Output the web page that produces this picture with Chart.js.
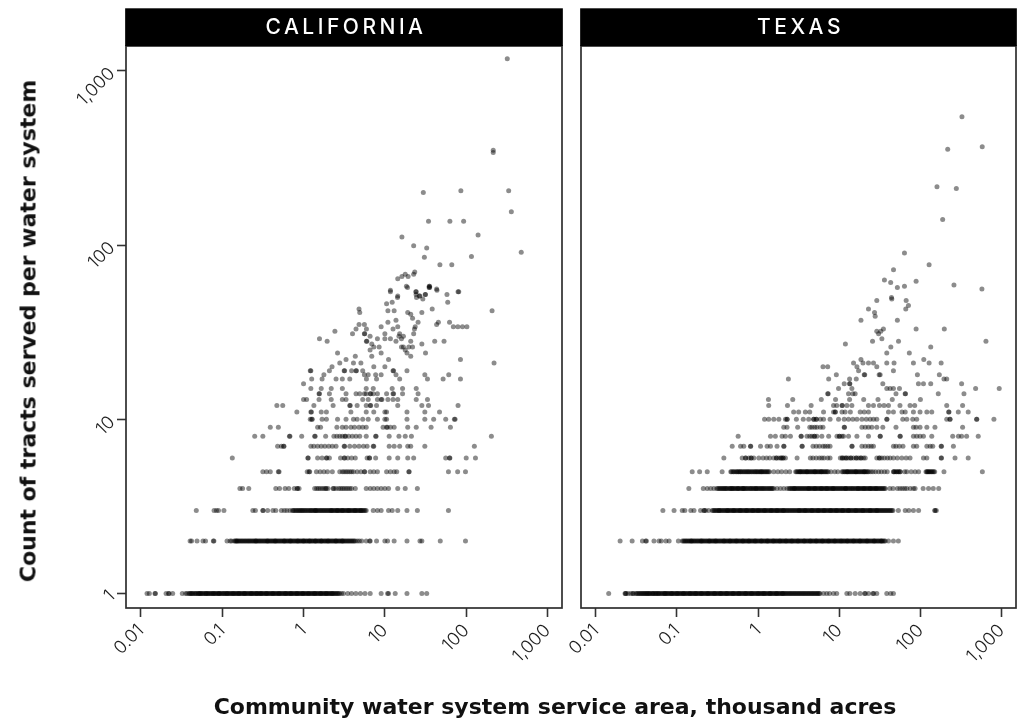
<!DOCTYPE html>
<html>
<head>
<meta charset="utf-8">
<title>Tracts served vs. service area</title>
<script src="https://cdn.jsdelivr.net/npm/chart.js@4.4.1/dist/chart.umd.min.js"></script>
<style>
  html, body { margin: 0; padding: 0; background: #fff; width: 1019px; height: 726px; overflow: hidden; }
  #wrap { position: relative; width: 1019px; height: 726px; }
  canvas { position: absolute; top: 0; }
  #cvCA { left: 0; }
  #cvTX { left: 540px; }
  .axis-title { position: absolute; white-space: nowrap; font-family: "DejaVu Sans", sans-serif; font-weight: 700; font-size: 22px; color: #111; }
  #yTitle { left: 28px; top: 331px; transform: translate(-50%, -50%) rotate(-90deg); }
  #xTitle { left: 555px; top: 706px; transform: translate(-50%, -50%); }
</style>
</head>
<body>
<div id="wrap">
  <canvas id="cvCA" width="580" height="726"></canvas>
  <canvas id="cvTX" width="495" height="726"></canvas>
  <div class="axis-title" id="yTitle">Count of tracts served per water system</div>
  <div class="axis-title" id="xTitle">Community water system service area, thousand acres</div>
</div>
<script>
// ---- axis ticks and panel names ----
const xTickValues = [0.01, 0.1, 1, 10, 100, 1000];
const xTickLabels = ['0.01', '0.1', '1', '10', '100', '1,000'];
const yTickValues = [1, 10, 100, 1000];
const yTickLabels = ['1', '10', '100', '1,000'];
const panelTitles = ['CALIFORNIA', 'TEXAS'];

// ---- California: service areas (thousand acres) of systems serving N tracts ----
const caRow1 = [0.0119, 0.0127, 0.0149, 0.0151, 0.0204, 0.0219, 0.0222, 0.0246, 0.0323, 0.0355, 0.037,
  0.039, 0.041, 0.043, 0.046, 0.048, 0.051, 0.052, 0.054, 0.057, 0.060, 0.063, 0.064, 0.067, 0.071, 0.075, 0.078,
  0.080, 0.084, 0.089, 0.092, 0.094, 0.100, 0.105, 0.111, 0.115, 0.118, 0.125, 0.132, 0.137, 0.140, 0.148, 0.156,
  0.160, 0.165, 0.175, 0.185, 0.190, 0.196, 0.207, 0.219, 0.225, 0.232, 0.245, 0.259, 0.265, 0.274, 0.290, 0.300,
  0.307, 0.325, 0.344, 0.350, 0.364, 0.385, 0.407, 0.420, 0.431, 0.456, 0.482, 0.500, 0.510, 0.540, 0.571, 0.600,
  0.604, 0.639, 0.676, 0.700, 0.715, 0.757, 0.801, 0.830, 0.847, 0.896, 0.948, 0.980, 1.00, 1.06, 1.12, 1.15, 1.19,
  1.26, 1.33, 1.37, 1.41, 1.49, 1.58, 1.62, 1.67, 1.77, 1.87, 1.90, 1.98, 2.09, 2.21, 2.25, 2.34, 2.48, 2.62, 2.70,
  2.77, 2.93, 3.10, 3.5, 3.9, 4.4, 5.0, 5.7, 6.6, 9.0, 10.8, 11.1, 13.4, 18.7, 28.5, 32.7,
  0.040, 0.042, 0.044, 0.047, 0.050, 0.053, 0.055, 0.058, 0.062, 0.066, 0.069, 0.073, 0.077, 0.082, 0.087, 0.091,
  0.097, 0.103, 0.108, 0.114, 0.121, 0.128, 0.135, 0.144, 0.152, 0.161, 0.170, 0.180, 0.188, 0.201, 0.213, 0.228,
  0.238, 0.252, 0.268, 0.283, 0.298, 0.315, 0.335, 0.354, 0.374, 0.396, 0.418, 0.443, 0.468, 0.495, 0.525, 0.555,
  0.588, 0.622, 0.658, 0.695, 0.736, 0.779, 0.824, 0.872, 0.922, 0.975, 1.03, 1.09, 1.16, 1.23, 1.30, 1.37, 1.45,
  1.53, 1.63, 1.72, 1.82, 1.93, 2.04, 2.15, 2.28, 2.41, 2.55];
const caRow2 = [0.0403, 0.0420, 0.0490, 0.0580, 0.0624, 0.0778, 0.0790, 0.1146, 0.125, 0.130,
  0.140, 0.148, 0.150, 0.157, 0.166, 0.176, 0.187, 0.198, 0.210, 0.222, 0.236, 0.250, 0.260, 0.265, 0.281, 0.297,
  0.315, 0.334, 0.354, 0.360, 0.375, 0.398, 0.422, 0.447, 0.450, 0.474, 0.502, 0.532, 0.564, 0.580, 0.598, 0.634,
  0.672, 0.690, 0.712, 0.755, 0.800, 0.848, 0.850, 0.899, 0.953, 1.00, 1.01, 1.07, 1.13, 1.18, 1.20, 1.27, 1.35,
  1.40, 1.43, 1.52, 1.61, 1.65, 1.70, 1.81, 1.91, 2.00, 2.03, 2.15, 2.28, 2.42, 2.50, 2.56, 2.72, 2.88, 3.00, 3.05,
  3.23, 3.43, 3.63, 3.85, 4.08, 4.33, 4.59, 4.86, 5.20, 5.90, 6.50, 6.60,
  7.9, 10.0, 10.8, 13.0, 18.7, 27.0, 28.5, 48.0, 98.0,
  0.144, 0.153, 0.161, 0.171, 0.181, 0.192, 0.204, 0.216, 0.229, 0.243, 0.257, 0.273, 0.289, 0.306, 0.325, 0.344,
  0.365, 0.387, 0.410, 0.434, 0.460, 0.488, 0.517, 0.548, 0.581, 0.616, 0.653, 0.692, 0.734, 0.778, 0.824, 0.874,
  0.926, 0.982, 1.04, 1.10, 1.17, 1.24, 1.31, 1.39, 1.47, 1.56, 1.66, 1.76, 1.86, 1.97, 2.09, 2.22, 2.35, 2.49,
  2.64, 2.80, 2.97, 3.14, 3.33, 3.53, 3.74, 3.97, 4.20];
const caRow3 = [0.048, 0.0794, 0.085, 0.090, 0.105, 0.238, 0.256, 0.316, 0.318, 0.362, 0.420, 0.456, 0.534, 0.580,
  0.624, 0.680, 0.73, 0.77, 0.82, 0.87, 0.92, 0.97, 1.03, 1.09, 1.16, 1.20, 1.23, 1.30, 1.38, 1.40, 1.46, 1.55,
  1.60, 1.64, 1.74, 1.84, 1.90, 1.95, 2.07, 2.19, 2.20, 2.32, 2.46, 2.60, 2.61, 2.76, 2.93, 3.00, 3.10, 3.29, 3.48,
  3.60, 3.69, 3.91, 4.15, 4.30, 4.40, 4.66, 4.94, 5.10, 5.24, 5.55, 5.90,
  7.2, 8.1, 9.0, 11.1, 12.3, 14.4, 18.7, 25.1, 60.5,
  0.75, 0.80, 0.85, 0.90, 0.95, 1.0, 1.06, 1.13, 1.26, 1.34, 1.42, 1.5, 1.69, 1.79, 2.01, 2.13, 2.26, 2.39, 2.53,
  2.68, 2.84, 3.02, 3.2, 3.39, 3.58, 3.8, 4.03, 4.27, 4.53, 4.8, 5.07, 5.4, 5.72];
const caRow4 = [0.165, 0.178, 0.212, 0.456, 0.507, 0.593, 0.658, 0.77, 0.837, 0.84, 0.881, 1.37, 1.45, 1.52, 1.6,
  1.69, 1.78, 1.87, 1.9, 2.0, 2.31, 2.35, 2.5, 2.7, 2.85, 3.0, 3.15, 3.33, 3.5, 3.7, 3.9, 4.33, 5.9, 6.6, 7.3, 8.1,
  9.0, 10.0, 11.1, 14.4, 17.8, 25.1];
const caRow5 = [0.316, 0.351, 0.39, 0.49, 0.5, 1.11, 1.17, 1.19, 1.44, 1.6, 1.78, 1.97, 2.26, 2.79, 3.0, 3.15,
  3.33, 3.5, 3.7, 3.9, 4.11, 4.56, 5.07, 5.6, 5.65, 6.6, 7.3, 8.1, 10.5, 11.7, 13.0, 14.0, 19.7, 19.9, 60.5, 78.5, 98.0];
const caRow6 = [0.133, 1.13, 1.14, 1.49, 1.69, 1.91, 1.93, 2.08, 2.85, 3.16, 3.2, 3.5, 3.9, 4.33, 6.05, 6.45, 6.5,
  7.7, 11.3, 14.4, 19.1, 22.6, 56.0, 62.4, 63.0, 100, 130];
const caRow7 = [0.48, 0.534, 0.569, 0.575, 1.23, 1.34, 1.49, 1.65, 1.83, 2.04, 2.26, 2.51, 3.16, 3.2, 3.7, 4.24,
  4.81, 5.45, 6.05, 7.2, 7.3, 11.3, 13.0, 15.2, 19.1, 20.8, 31.0, 126];
const caRow8 = [0.251, 0.316, 0.671, 0.68, 0.949, 1.37, 1.39, 1.87, 2.36, 2.57, 2.79, 3.0, 3.23, 3.28, 3.59, 3.98,
  4.42, 4.91, 5.9, 7.7, 7.8, 11.3, 14.9, 17.8, 21.2, 204];
const caRow9 = [0.39, 0.49, 1.49, 1.62, 2.57, 3.0, 3.33, 3.82, 4.24, 4.81, 5.34, 5.9, 9.5, 10.5, 10.7, 11.7, 13.0,
  19.1, 24.3, 37.0, 64.0];
const caRow10 = [1.21, 1.26, 1.28, 1.69, 1.91, 2.62, 3.33, 4.11, 4.56, 5.34, 6.24, 8.1, 10.0, 10.5, 18.7, 31.0,
  39.8, 56.0, 71.6, 73.0];
const caRow11 = [0.828, 1.23, 1.25, 1.65, 1.91, 3.82, 5.9, 7.3, 10.0, 10.5, 18.7, 31.0, 47.0];
const caRow12 = [0.47, 0.555, 1.34, 2.31, 3.7, 3.75, 4.56, 5.9, 6.6, 6.7, 7.9, 14.4, 28.5, 34.4, 79.4];
const caRow13 = [1.0, 1.09, 1.55, 2.19, 3.0, 3.33, 5.34, 6.24, 8.1, 9.0, 9.2, 10.9, 12.6, 14.4, 24.3, 33.4];
const caRow14 = [1.55, 1.57, 2.08, 3.33, 4.42, 4.91, 5.6, 5.9, 6.6, 6.7, 7.2, 8.1, 10.5, 12.6, 12.8, 16.5, 25.6];
const caRow15 = [1.23, 1.65, 2.19, 3.0, 5.9, 7.2, 12.3, 16.5, 24.3];
// [area, tracts] for systems serving more than 15 tracts
const caLarger = [[1.0, 16], [1.21, 19], [1.23, 19], [1.26, 17], [1.57, 29], [1.95, 28], [2.43, 32], [1.69, 17],
  [1.78, 18], [2.08, 19], [2.24, 20], [2.51, 17], [2.62, 24], [2.79, 21], [3.0, 17], [3.16, 19], [3.2, 19], [3.33, 22],
  [3.7, 17], [3.9, 19], [4.0, 31], [4.11, 21], [4.33, 23], [4.42, 19], [4.46, 19], [4.42, 33], [4.81, 43], [4.91, 41],
  [4.81, 35], [5.07, 21], [5.34, 19], [5.6, 35], [5.6, 18], [5.93, 33], [5.93, 17], [6.24, 18], [5.93, 28], [6.0, 28],
  [5.6, 31], [5.65, 31], [6.58, 30], [6.58, 25], [6.9, 23], [6.9, 27], [7.31, 20], [7.31, 26], [7.7, 18], [7.9, 17],
  [8.1, 29], [8.5, 26], [9.0, 18], [9.0, 24], [9.0, 34], [10, 20], [10, 31], [10, 29], [10.5, 46], [10.9, 42],
  [10.9, 36], [11.1, 22], [11.7, 55], [11.7, 29], [12.3, 47], [12.6, 33], [12.6, 19], [12.8, 19], [13, 42], [13.7, 37],
  [13.7, 28], [13.7, 18], [14.4, 34], [14.4, 51], [14.9, 30], [15.2, 31], [15.2, 17], [16, 29], [16, 26], [16.9, 26],
  [16.9, 30], [17.8, 25], [18.4, 58], [18.7, 24], [18.7, 19], [19.1, 41], [19.7, 26], [20.8, 23], [20.8, 28],
  [20.8, 40], [21.9, 26], [21.9, 38], [22.6, 31], [23.1, 33], [23.6, 34], [24.3, 54], [25.6, 36], [26.6, 51],
  [26.9, 51], [28.5, 41], [28.5, 27], [29.3, 49], [31, 18], [31.6, 52], [31.6, 24], [33.4, 17], [35.1, 58], [35.5, 58],
  [38.2, 43], [41, 28], [43.3, 56], [43.3, 35], [45.5, 36], [52, 17], [53.4, 28], [58, 52], [59.3, 47], [61, 18],
  [62.4, 36], [69.5, 34], [79, 34], [81, 54], [85, 22], [90, 34], [102, 34], [85, 17], [208, 42], [220, 21],
  [320, 1170], [215, 350], [215, 340], [29.7, 200], [86, 205], [333, 205], [359, 155], [34.4, 137], [63, 137],
  [93, 137], [140, 114], [16.2, 111], [475, 91], [22.6, 99], [32.7, 96], [30.6, 85], [116, 86], [47.5, 77],
  [66.5, 77], [14.4, 64], [16.2, 66], [17.8, 68], [19.3, 66], [22.6, 68], [23.3, 70], [19, 57], [35, 57],
  [35.5, 57], [43.7, 55], [79.4, 54], [11.7, 54], [14.3, 50], [24, 54], [24.2, 52], [24.5, 50], [31.3, 52]];

// ---- Texas: service areas (thousand acres) of systems serving N tracts ----
const txRow1 = [0.0144, 0.0229, 0.0232, 0.0236, 0.025, 0.027, 0.0285, 0.029,
  0.031, 0.033, 0.035, 0.037, 0.039, 0.041, 0.042, 0.044, 0.046, 0.049, 0.050, 0.052, 0.055, 0.058, 0.060, 0.062,
  0.066, 0.070, 0.072, 0.074, 0.078, 0.083, 0.085, 0.088, 0.093, 0.099, 0.100, 0.105, 0.111, 0.118, 0.120, 0.125,
  0.132, 0.140, 0.145, 0.149, 0.158, 0.167, 0.170, 0.177, 0.188, 0.199, 0.200, 0.211, 0.224, 0.237, 0.240, 0.251,
  0.266, 0.282, 0.290, 0.299, 0.317, 0.336, 0.345, 0.356, 0.378, 0.400, 0.410, 0.424, 0.450, 0.477, 0.490, 0.505,
  0.536, 0.568, 0.580, 0.602, 0.638, 0.676, 0.700, 0.717, 0.760, 0.805, 0.830, 0.854, 0.905, 0.959, 1.00, 1.02,
  1.08, 1.14, 1.18, 1.21, 1.28, 1.36, 1.40, 1.44, 1.53, 1.62, 1.68, 1.72, 1.82, 1.93, 2.00, 2.05, 2.17, 2.30, 2.44,
  2.58, 2.74, 2.90, 3.08, 3.26, 3.46, 3.66, 3.88, 4.12, 4.36, 4.63, 4.90, 5.20, 5.50, 5.80,
  6.4, 7.0, 7.6, 8.5, 9.3, 12.4, 13.5, 15.7, 18.1, 20.5, 21.0, 23.0, 26.0, 26.5, 29.0, 38.5, 43.0, 46.5,
  0.032, 0.034, 0.036, 0.038, 0.040, 0.043, 0.045, 0.047, 0.051, 0.054, 0.056, 0.059, 0.064, 0.068, 0.071, 0.076,
  0.080, 0.086, 0.090, 0.096, 0.102, 0.108, 0.114, 0.121, 0.128, 0.136, 0.144, 0.153, 0.162, 0.172, 0.182, 0.193,
  0.205, 0.217, 0.230, 0.244, 0.258, 0.274, 0.290, 0.308, 0.326, 0.346, 0.367, 0.389, 0.412, 0.437, 0.463, 0.491,
  0.520, 0.552, 0.585, 0.620, 0.657, 0.696, 0.738, 0.782, 0.829, 0.879, 0.932, 0.988, 1.05, 1.11, 1.17, 1.24, 1.32,
  1.40, 1.48, 1.57, 1.67, 1.77, 1.87, 1.99, 2.11, 2.23, 2.37, 2.51, 2.66, 2.82, 2.99, 3.17, 3.36, 3.56, 3.77, 4.00,
  4.24, 4.50, 4.76, 5.05, 5.35, 5.65];
const txRow2 = [0.0199, 0.028, 0.0375, 0.0411, 0.042, 0.052, 0.060, 0.064, 0.073, 0.080, 0.104,
  0.116, 0.123, 0.130, 0.138, 0.146, 0.150, 0.155, 0.164, 0.174, 0.184, 0.195, 0.200, 0.207, 0.219, 0.232, 0.246,
  0.250, 0.261, 0.277, 0.293, 0.300, 0.311, 0.330, 0.349, 0.370, 0.380, 0.393, 0.416, 0.441, 0.450, 0.468, 0.496,
  0.525, 0.540, 0.557, 0.590, 0.626, 0.650, 0.663, 0.703, 0.745, 0.770, 0.790, 0.837, 0.887, 0.920, 0.941, 0.997,
  1.06, 1.10, 1.12, 1.19, 1.26, 1.30, 1.33, 1.41, 1.50, 1.55, 1.59, 1.68, 1.78, 1.85, 1.89, 2.00, 2.12, 2.20, 2.25,
  2.39, 2.53, 2.60, 2.68, 2.84, 3.01, 3.10, 3.19, 3.38, 3.59, 3.70, 3.80, 4.03, 4.27, 4.40, 4.53, 4.80, 5.09, 5.20,
  5.39, 5.72, 6.06, 6.20, 6.42, 6.81, 7.22, 7.40, 7.65, 8.11, 8.60, 8.80, 9.11, 9.66, 10.2, 10.5, 10.9, 11.5, 12.2,
  12.5, 12.9, 13.7, 14.5, 15.0, 15.4, 16.3, 17.3, 18.0, 18.3, 19.4, 20.6, 21.8, 22.0, 23.1, 24.5, 26.0, 27.0, 27.5,
  29.2, 30.9, 32.8, 33.0, 34.8, 36.9, 40.4, 46.5, 53.5,
  0.120, 0.127, 0.134, 0.142, 0.151, 0.160, 0.169, 0.179, 0.190, 0.201, 0.213, 0.226, 0.239, 0.254, 0.269, 0.285,
  0.302, 0.320, 0.339, 0.360, 0.381, 0.404, 0.428, 0.454, 0.481, 0.510, 0.541, 0.573, 0.608, 0.644, 0.683, 0.724,
  0.767, 0.813, 0.862, 0.914, 0.969, 1.03, 1.09, 1.16, 1.23, 1.30, 1.37, 1.46, 1.54, 1.64, 1.73, 1.84, 1.95, 2.06,
  2.19, 2.32, 2.46, 2.61, 2.76, 2.93, 3.10, 3.29, 3.49, 3.70, 3.92, 4.15, 4.40, 4.67, 4.95, 5.24, 5.56, 5.89, 6.24,
  6.62, 7.01, 7.43, 7.88, 8.35, 8.85, 9.39, 9.95, 10.6, 11.2, 11.8, 12.6, 13.3, 14.1, 15.0, 15.9, 16.8, 17.8, 18.9,
  20.0, 21.2, 22.5, 23.8, 25.3, 26.8, 28.4, 30.1, 31.9, 33.8, 35.8];
const txRow3 = [0.067, 0.092, 0.116, 0.125, 0.148, 0.162, 0.195, 0.215, 0.216, 0.225, 0.245,
  0.272, 0.288, 0.305, 0.324, 0.330, 0.343, 0.364, 0.386, 0.409, 0.420, 0.433, 0.459, 0.487, 0.500, 0.516, 0.547,
  0.580, 0.600, 0.615, 0.652, 0.691, 0.720, 0.732, 0.776, 0.823, 0.860, 0.872, 0.925, 0.980, 1.00, 1.04, 1.10, 1.17,
  1.20, 1.24, 1.31, 1.39, 1.45, 1.47, 1.56, 1.66, 1.70, 1.76, 1.86, 1.97, 2.05, 2.09, 2.22, 2.35, 2.49, 2.64, 2.80,
  2.97, 3.15, 3.20, 3.34, 3.54, 3.75, 3.80, 3.98, 4.21, 4.47, 4.60, 4.73, 5.02, 5.32, 5.50, 5.64, 5.98, 6.34, 6.50,
  6.72, 7.12, 7.55, 7.80, 8.00, 8.48, 8.99, 9.20, 9.53, 10.1, 10.7, 11.0, 11.3, 12.0, 12.8, 13.0, 13.5, 14.3, 15.2,
  16.0, 16.1, 17.1, 18.1, 19.2, 19.5, 20.3, 21.5, 22.8, 24.0, 24.2, 25.6, 27.2, 28.8, 29.0, 30.5, 32.4, 34.3, 36.4,
  38.5, 40.9, 43.3, 45.9, 53.5, 65, 72, 82, 95, 150, 152, 157,
  0.280, 0.296, 0.314, 0.333, 0.353, 0.375, 0.397, 0.421, 0.446, 0.473, 0.501, 0.531, 0.563, 0.597, 0.633, 0.671,
  0.711, 0.754, 0.799, 0.847, 0.898, 0.952, 1.01, 1.07, 1.13, 1.20, 1.27, 1.35, 1.43, 1.52, 1.61, 1.71, 1.81, 1.92,
  2.03, 2.15, 2.28, 2.42, 2.57, 2.72, 2.88, 3.06, 3.24, 3.44, 3.64, 3.86, 4.09, 4.34, 4.60, 4.88, 5.17, 5.48, 5.81,
  6.16, 6.53, 6.92, 7.33, 7.77, 8.24, 8.73, 9.26, 9.81, 10.4, 11.0, 11.7, 12.4, 13.1, 13.9, 14.7, 15.6, 16.6, 17.6,
  18.6, 19.7, 20.9, 22.2, 23.5, 24.9, 26.4, 28.0, 29.7, 31.4, 33.3, 35.3, 37.4, 39.7, 42.0, 44.6];
const txRow4 = [0.140, 0.211, 0.236, 0.260, 0.285,
  0.31, 0.33, 0.34, 0.35, 0.37, 0.39, 0.40, 0.41, 0.44, 0.46, 0.47, 0.49, 0.52, 0.55, 0.56, 0.58, 0.62, 0.65, 0.66,
  0.69, 0.73, 0.78, 0.80, 0.82, 0.87, 0.92, 0.95, 0.98, 1.04, 1.10, 1.13, 1.16, 1.23, 1.31, 1.35, 1.39, 1.47, 1.56,
  1.71, 1.88, 2.07, 2.27,
  2.40, 2.54, 2.69, 2.80, 2.86, 3.03, 3.21, 3.40, 3.50, 3.60, 3.82, 4.05, 4.20, 4.29, 4.55, 4.82, 5.00, 5.11, 5.42,
  5.74, 6.00, 6.09, 6.45, 6.84, 7.00, 7.25, 7.69, 8.15, 8.40, 8.63, 9.15, 9.70, 10.0, 10.3, 10.9, 11.6, 12.0, 12.2,
  13.0, 13.8, 14.2, 14.6, 15.5, 16.4, 17.0, 17.4, 18.4, 19.5, 20.2, 20.7, 21.9, 23.2, 24.0, 24.6, 26.1, 27.6, 28.5,
  29.3, 31.1, 32.9, 34.9, 37.0, 42, 46, 52, 56, 60, 64, 68, 75, 82, 86, 108, 126, 144, 168,
  0.32, 0.36, 0.38, 0.42, 0.45, 0.48, 0.50, 0.53, 0.57, 0.60, 0.64, 0.67, 0.71, 0.75, 0.84, 0.89, 0.94, 1.01, 1.07,
  1.19, 1.27, 1.43, 1.51, 2.47, 2.62, 2.77, 2.94, 3.12, 3.30, 3.71, 3.93, 4.17, 4.42, 4.68, 4.97, 5.27, 5.58, 5.92,
  6.27, 6.65, 7.05, 7.47, 7.92, 8.39, 8.89, 9.43, 10.6, 11.2, 11.9, 12.6, 13.4, 14.9, 15.9, 16.9, 17.9, 18.9, 20.0,
  21.3, 22.5, 23.9, 25.3, 26.8, 28.4, 30.2, 32.0, 33.9, 35.9];
const txRow5 = [0.154, 0.190, 0.236, 0.360,
  0.46, 0.49, 0.50, 0.52, 0.55, 0.58, 0.60, 0.61, 0.65, 0.69, 0.73, 0.75, 0.77, 0.82, 0.87, 0.90, 0.92, 0.97, 1.03,
  1.09, 1.10, 1.16, 1.23, 1.30, 1.38, 1.56, 1.75, 1.95, 2.20, 2.45,
  2.90, 3.07, 3.25, 3.30, 3.45, 3.65, 3.87, 4.00, 4.10, 4.35, 4.60, 4.88, 5.00, 5.17, 5.48, 5.80, 6.00, 6.15, 6.52,
  6.90, 7.30, 7.9, 8.8, 9.6, 10.8, 11.5, 12.2, 12.5, 12.9, 13.7, 14.5, 15.4, 16.0, 16.3, 17.3, 18.3, 19.4, 20.0, 20.6,
  21.8, 23.1, 24.5, 26, 28, 30.5, 33, 36, 39, 46.5, 48, 50, 53, 56, 56.5, 64, 68, 77, 86, 95, 117, 122, 128, 135,
  142, 150, 195, 580,
  0.47, 0.54, 0.57, 0.63, 0.67, 0.71, 0.79, 0.84, 0.95, 1.0, 1.06, 1.13, 1.2, 1.27, 1.34, 2.98, 3.16, 3.35, 3.55,
  3.76, 3.98, 4.22, 4.47, 4.74, 5.03, 5.32, 5.64, 5.98, 6.33, 6.71, 7.1, 11.1, 11.8, 12.6, 13.3, 14.1, 15.0, 15.9,
  16.8, 17.8, 18.9, 20.3, 21.2, 22.4, 47, 51, 54, 120, 125, 131, 138, 146];
const txRow6 = [0.378, 0.636, 0.70, 0.70, 0.768, 0.82, 0.82, 0.885, 1.02, 1.15, 1.27, 1.39, 1.56, 1.68, 1.68, 1.8,
  1.92, 1.92, 2.03, 2.03, 2.17, 3.02, 4.4, 4.74, 5.2, 5.7, 6.1, 6.5, 7.2, 7.7, 10.3, 10.9, 10.9, 11.5, 12.2, 12.2,
  13.0, 13.9, 13.9, 15.0, 16.2, 16.2, 17.3, 18.5, 18.5, 19.9, 20.9, 29, 31.2, 31.2, 33.4, 36, 39.2, 42.3, 46.5, 52,
  59, 66.7, 74.5, 109, 120, 180, 182, 267, 388];
const txRow7 = [0.479, 0.607, 0.666, 0.805, 0.81, 1.07, 1.29, 1.42, 1.71, 2.07, 2.08, 3.47, 3.5, 4.74, 5.2, 5.7,
  6.3, 6.7, 7.2, 7.7, 14.3, 14.4, 19, 20.9, 22.9, 24.7, 26.4, 46.5, 50, 55, 61, 82, 90, 120, 132, 142, 180, 182, 255];
const txRow8 = [0.567, 1.42, 1.63, 1.97, 2.17, 2.5, 3.38, 3.4, 4.0, 4.33, 4.6, 4.93, 4.95, 5.3, 6.1, 7.4, 9.36,
  10.0, 10.1, 10.8, 11.3, 13.0, 16.5, 22.9, 31.9, 32.0, 56, 56.5, 82, 90, 99, 109, 138, 250, 294, 322, 371, 516];
const txRow9 = [2.07, 2.27, 3.07, 4.33, 4.6, 4.97, 5.3, 5.84, 6.3, 11.5, 11.6, 19, 20.9, 22.9, 25.2, 29, 34.4, 50,
  82, 88.5, 99, 120, 151, 331];
const txRow10 = [1.2, 1.35, 1.56, 1.8, 2.17, 2.27, 2.28, 2.96, 3.6, 4.2, 4.83, 4.85, 5.2, 5.22, 5.84, 6.4, 7.7, 9.8,
  11.5, 13.0, 14.7, 16.5, 19.0, 21.5, 24.0, 26.4, 29.0, 38.5, 38.7, 60.6, 68, 80.4, 90, 211, 231, 232, 493, 495, 805];
const txRow11 = [2.74, 3.16, 3.82, 4.33, 6.4, 8.5, 8.9, 8.95, 10.8, 11.8, 13.7, 18.1, 20.3, 22.9, 40.4, 46.5, 59.2,
  65, 82, 99, 120, 138, 223, 225, 293, 388];
const txRow12 = [1.35, 2.3, 4.5, 8.5, 9.3, 10.8, 10.9, 12.4, 14.3, 22.9, 26.4, 31.3, 35.6, 40.4, 56, 74.5, 85, 211, 331];
// [area, tracts] for systems serving more than 12 tracts
const txLarger = [[1.34, 13], [2.67, 13], [13.4, 13], [6.0, 13], [9.0, 13], [20, 13], [30, 13], [45, 13], [100, 13],
  [7.2, 14], [7.3, 14], [14.7, 14], [15.7, 14], [13, 14], [50, 14], [64.8, 14], [65.5, 14], [166, 14], [344, 14],
  [9.8, 15], [14.3, 15], [38.5, 15], [42.3, 15], [46.5, 15], [55.2, 15], [479, 15], [936, 15],
  [11.5, 16], [13.4, 16], [13.5, 16], [34.4, 16], [94.5, 16], [109, 16], [134, 16], [322, 16],
  [2.36, 17], [7.4, 17], [13.4, 17], [16.2, 17], [195, 17], [211, 17],
  [20.3, 18], [20.6, 18], [31, 18], [31.9, 18], [9.2, 18], [91.8, 18], [171, 18],
  [17.3, 19], [46.5, 19], [16.5, 20], [29, 20], [6.3, 20], [7.2, 20],
  [15, 21], [22.9, 21], [26.4, 21], [38.5, 21], [47.3, 21], [82, 21], [128, 21], [180, 21], [19.6, 21],
  [18.5, 22], [110, 22], [38.5, 24], [73, 24], [43.2, 26], [134, 26], [11.9, 27], [25.7, 28], [53.7, 28], [642, 28],
  [33.5, 29], [30.5, 31], [29, 32], [32.5, 32], [35, 33], [88.5, 33], [197, 33], [52, 37], [18.5, 37], [27.7, 39],
  [27.2, 41], [22.9, 43], [66, 43], [71.2, 45], [66.7, 48], [29, 48], [44.4, 49], [44, 50],
  [36, 63], [43, 61], [52, 57], [63.6, 58], [88.5, 62], [259, 59], [573, 56], [63.6, 90], [128, 77], [46.6, 72],
  [188, 140], [160, 216], [277, 211], [217, 354], [578, 366], [325, 545]];

const caRows = [caRow1, caRow2, caRow3, caRow4, caRow5, caRow6, caRow7, caRow8, caRow9, caRow10,
  caRow11, caRow12, caRow13, caRow14, caRow15];
const txRows = [txRow1, txRow2, txRow3, txRow4, txRow5, txRow6, txRow7, txRow8, txRow9, txRow10, txRow11, txRow12];

function toPoints(rows, larger) {
  const pts = [];
  rows.forEach((areas, i) => areas.forEach(a => pts.push({ x: a, y: i + 1 })));
  larger.forEach(([a, n]) => pts.push({ x: a, y: n }));
  return pts;
}

// ---- drawing helpers ----
const TICK_FONT = { family: 'Inter, "DejaVu Sans", sans-serif', size: 18, weight: '300' };
const X_MIN = Math.pow(10, -2.183), X_MAX = Math.pow(10, 3.178);
const Y_MIN = Math.pow(10, -0.083), Y_MAX = Math.pow(10, 3.142);

// frame around the plot area plus the black strip carrying the panel name
const panelFrame = {
  id: 'panelFrame',
  afterDatasetsDraw(chart, args, opts) {
    const { ctx, chartArea: a } = chart;
    ctx.save();
    ctx.strokeStyle = '#2e2e2e';
    ctx.lineWidth = 1.7;
    ctx.strokeRect(a.left, a.top, a.right - a.left, a.bottom - a.top);
    ctx.fillStyle = '#000';
    ctx.fillRect(a.left - 0.85, opts.stripTop, a.right - a.left + 1.7, a.top - opts.stripTop);
    ctx.fillStyle = '#fff';
    ctx.font = '500 21px Inter, "DejaVu Sans", sans-serif';
    ctx.letterSpacing = '3.5px';
    ctx.textAlign = 'center';
    ctx.textBaseline = 'middle';
    ctx.fillText(opts.label, (a.left + a.right) / 2 + 2, (opts.stripTop + a.top) / 2 + 1);
    ctx.restore();
  }
};

function makeChart(canvasId, points, title, showY, padding) {
  return new Chart(document.getElementById(canvasId), {
    type: 'scatter',
    data: {
      datasets: [{
        data: points,
        pointRadius: 2.5,
        pointHoverRadius: 2.5,
        pointBorderWidth: 0,
        backgroundColor: 'rgba(0,0,0,0.45)'
      }]
    },
    options: {
      responsive: false,
      animation: false,
      layout: { padding },
      plugins: {
        legend: { display: false },
        tooltip: { enabled: false },
        panelFrame: { label: title, stripTop: 8.3 }
      },
      scales: {
        x: {
          type: 'logarithmic',
          min: X_MIN, max: X_MAX,
          afterBuildTicks: s => { s.ticks = xTickValues.map(v => ({ value: v })); },
          afterFit: s => { s.height = 118; },
          ticks: {
            callback: (v, i) => xTickLabels[i],
            minRotation: 45, maxRotation: 45,
            padding: 3, color: '#1e1e1e', font: TICK_FONT, autoSkip: false
          },
          grid: { drawOnChartArea: false, drawTicks: true, tickLength: 9, tickColor: '#333', tickWidth: 1.6 },
          border: { display: false }
        },
        y: {
          type: 'logarithmic',
          display: showY,
          min: Y_MIN, max: Y_MAX,
          afterBuildTicks: s => { s.ticks = yTickValues.map(v => ({ value: v })); },
          afterFit: s => { if (showY) s.width = 126; },
          ticks: {
            callback: (v, i) => yTickLabels[i],
            minRotation: 45, maxRotation: 45,
            padding: 5, color: '#1e1e1e', font: TICK_FONT, autoSkip: false
          },
          grid: { drawOnChartArea: false, drawTicks: true, tickLength: 9, tickColor: '#333', tickWidth: 1.6 },
          border: { display: false }
        }
      }
    },
    plugins: [panelFrame]
  });
}

makeChart('cvCA', toPoints(caRows, caLarger), panelTitles[0], true, { left: 0, top: 46, right: 18, bottom: 0 });
makeChart('cvTX', toPoints(txRows, txLarger), panelTitles[1], false, { left: 41, top: 46, right: 19, bottom: 0 });
</script>
</body>
</html>
